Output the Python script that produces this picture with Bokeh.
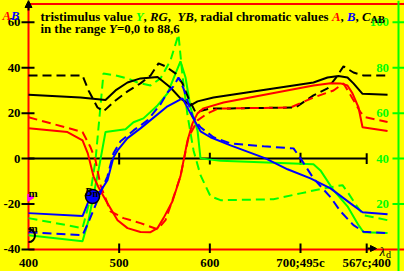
import math
from bokeh.plotting import figure
from bokeh.models import Range1d, Label, Arrow, NormalHead
from bokeh.core.properties import value
from bokeh.embed import file_html
from bokeh.resources import INLINE

# ---------------- data ----------------
x_ticks = [400, 500, 600, 700, 773]
x_labels = ["400", "500", "600", "700;495c", "567c;400"]
y_ticks = [-40, -20, 0, 20, 40, 60]
y_labels = ["-40", "-20", "0", "20", "40", "60"]
right_ticks = [20, 40, 60, 80, 100]
right_labels = ["20", "40", "60", "80", "100"]

# C_AB (black)
x_cab = [400, 457.4, 484.9, 496.0, 509.2, 523.5, 542.3, 556.6, 567.6, 578.7, 586.4, 604.0,
         714.3, 729.8, 741.9, 751.8, 758.4, 768.4, 796.0]
cab_solid = [28.1, 26.9, 25.8, 30.0, 33.5, 35.3, 35.9, 31.3, 26.5, 23.4, 25.2, 26.9,
             33.5, 35.7, 36.4, 35.7, 33.1, 28.5, 28.1]
x_cab_d = [400, 459.6, 466.2, 476.1, 482.7, 496.0, 509.2, 523.5, 534.6, 543.4, 551.1, 562.1,
           569.8, 576.5, 584.2, 600.7, 622.8, 694.5, 714.3, 729.8, 738.6, 747.4, 758.4, 769.5, 796.0]
cab_dashed = [36.6, 36.6, 30.0, 22.5, 20.8, 25.6, 29.6, 33.1, 36.6, 41.9, 40.6, 37.5,
              33.1, 26.5, 20.4, 22.1, 22.1, 22.5, 27.8, 30.9, 35.3, 40.6, 37.9, 36.6, 36.6]

# A (red)
x_a = [400, 443.0, 459.6, 465.4, 471.7, 477.2, 487.1, 498.2, 509.2, 523.5, 534.6, 542.3, 548.9, 558.8,
       567.6, 575.4, 580.9, 586.4, 593.0, 615.1, 714.3, 733.1, 744.1, 751.8, 757.3, 764.0, 768.4, 796.0]
a_solid = [13.4, 11.7, 8.0, 2.3, -7.8, -12.6, -19.7, -27.1, -30.6, -32.3, -32.4, -30.6, -26.2, -18.8,
           -7.8, 8.0, 15.5, 19.9, 22.1, 24.7, 32.2, 33.2, 33.1, 32.2, 28.7, 22.5, 13.8, 12.1]
x_a_d = [400, 459.6, 468.4, 473.9, 479.4, 490.4, 504.8, 523.5, 542.3, 551.1, 558.8, 567.6, 576.5,
         586.4, 597.4, 609.6, 622.8, 689.0, 714.3, 736.4, 747.4, 757.3, 766.2, 771.7, 796.0]
a_dashed = [18.2, 11.7, 5.0, -0.7, -11.7, -23.2, -26.2, -28.4, -31.1, -27.1, -18.3, -7.8, 9.4,
            16.8, 19.9, 22.1, 22.1, 22.5, 26.9, 30.0, 33.1, 26.5, 20.4, 18.2, 16.1]

# B (blue)
x_b = [400, 459.6, 466.2, 472.8, 479.4, 487.1, 493.7, 498.2, 509.2, 523.5, 553.3, 569.8, 578.7,
       589.7, 600.7, 622.8, 661.4, 685.7, 711.0, 733.1, 755.1, 768.4, 796.0]
b_solid = [-24.0, -25.3, -18.8, -15.7, -14.4, -9.5, 0.6, 3.6, 9.0, 13.3, 23.0, 26.5, 19.9,
           12.0, 9.4, 5.8, 0.1, -4.7, -8.7, -13.1, -19.7, -23.6, -24.5]
x_b_d = [400, 459.6, 466.2, 473.9, 480.5, 487.1, 493.7, 501.5, 515.8, 531.2, 545.6, 553.3, 559.9,
         565.4, 570.9, 580.9, 589.7, 604.0, 622.8, 659.2, 692.3, 700.0, 714.3, 733.1, 744.1, 758.4,
         769.5, 796.0]
b_dashed = [-32.4, -33.7, -28.0, -20.5, -13.9, -7.8, 2.3, 7.6, 12.4, 16.8, 23.9, 29.1, 31.8,
            35.7, 30.9, 18.6, 13.8, 9.4, 6.7, 5.4, 4.5, 0.1, -8.7, -17.0, -23.2, -29.3,
            -32.2, -32.8]

# Y (green, right axis)
x_y = [400, 459.6, 466.2, 472.8, 477.2, 484.9, 507.0, 515.8, 526.8, 542.3, 553.3, 567.6, 573.2,
       578.7, 586.4, 589.7, 611.8, 714.3, 722.0, 736.4, 751.8, 764.0, 769.5, 796.0]
y_solid = [6.3, 3.6, 12.9, 26.1, 34.8, 51.7, 52.9, 56.0, 57.7, 63.4, 68.7, 82.8, 75.7,
           62.5, 52.4, 40.1, 39.0, 37.5, 34.8, 26.1, 19.0, 10.7, 7.6, 7.2]
x_y_d = [400, 459.6, 466.2, 473.9, 482.7, 496.0, 509.2, 520.2, 534.6, 545.6, 556.6, 565.4, 569.8,
         575.4, 582.0, 589.7, 600.7, 611.8, 670.2, 700.0, 725.4, 746.3, 752.9, 762.9, 769.5, 796.0]
y_dashed = [13.8, 9.4, 19.5, 39.3, 77.5, 76.6, 75.3, 73.5, 72.2, 75.3, 83.2, 94.6, 76.6,
            59.0, 43.6, 32.7, 23.4, 21.7, 22.1, 24.7, 26.9, 28.3, 24.7, 18.6, 15.1, 12.9]

# markers
dot_x, dot_y = [470.6], [-16.7]
tri_x, tri_y = [401.5], [-17.2]
ring_x, ring_y = [400.0], [-33.9]

# ---------------- layout ----------------
W, H = 404, 271
PX0, PY0 = 28.0, 158.1          # pixel of x=400, y=0
SX, SY = 0.9067, 2.2719         # px per unit
X0 = 400 - PX0 / SX
X1 = 400 + (W - PX0) / SX
Y1 = PY0 / SY
Y0 = -(H - PY0) / SY


def X(px):
    return 400 + (px - PX0) / SX


def Y(py):
    return (PY0 - py) / SY


RED, GREEN, BLUE, BLACK, YEL = "#ff0000", "#00ff00", "#0000ff", "#000000", "#ffff00"
FONT = "Liberation Serif"
FS = "12.8px"

p = figure(width=W, height=H, output_backend="svg", toolbar_location=None,
           x_range=Range1d(X0, X1), y_range=Range1d(Y0, Y1),
           x_axis_location=None, y_axis_location=None,
           min_border_left=0, min_border_right=0, min_border_top=0, min_border_bottom=0)
p.extra_y_ranges = {"right": Range1d(Y0 + 40, Y1 + 40)}
p.background_fill_color = YEL
p.border_fill_color = YEL
p.outline_line_color = None
p.grid.visible = False

xmin, ymin = x_ticks[0], y_ticks[0]

# left (red) axis, bottom (red) axis, top red line
p.segment(x0=[xmin], x1=[xmin], y0=[ymin], y1=[Y(3)], line_color=RED, line_width=2)
p.segment(x0=[xmin], x1=[X(404)], y0=[ymin], y1=[ymin], line_color=RED, line_width=2)
p.segment(x0=[xmin], x1=[X(404)], y0=[Y(3.5)], y1=[Y(3.5)], line_color=RED, line_width=2)

# left ticks + labels
p.segment(x0=X(21), x1=X(34), y0=y_ticks, y1=y_ticks, line_color=BLACK, line_width=2)
p.text(x=[X(20)] * len(y_ticks), y=y_ticks, text=y_labels, text_align="right",
       text_baseline="middle", text_color=BLACK, text_font=value(FONT),
       text_font_style="bold", text_font_size=FS)

# bottom ticks + labels
p.segment(x0=x_ticks[1:], x1=x_ticks[1:], y0=Y(243), y1=Y(252.5), line_color=BLACK, line_width=2)
p.text(x=x_ticks, y=[Y(262.5)] * len(x_ticks), text=x_labels, text_align="center",
       text_baseline="alphabetic", text_color=BLACK, text_font=value(FONT),
       text_font_style="bold", text_font_size=FS)

# right (green) axis
p.segment(x0=[X(398)], x1=[X(398)], y0=[Y(271)], y1=[Y(0)], line_color=GREEN, line_width=2)
p.segment(x0=X(392), x1=X(404), y0=right_ticks, y1=right_ticks, y_range_name="right",
          line_color=GREEN, line_width=2)
p.text(x=[X(388.5)] * len(right_ticks), y=right_ticks, text=right_labels, y_range_name="right",
       text_align="right", text_baseline="middle", text_color=GREEN,
       text_font=value(FONT), text_font_style="bold", text_font_size=FS)

# zero axis line with ticks
p.line(x=[x_ticks[0], x_ticks[-1]], y=[0, 0], line_color=BLACK, line_width=2)
p.segment(x0=x_ticks[1:4], x1=x_ticks[1:4], y0=-2.6, y1=2.6, line_color=BLACK, line_width=2)
p.segment(x0=[x_ticks[-1]], x1=[x_ticks[-1]], y0=-2.4, y1=2.4, line_color=BLACK, line_width=2)

DASH = "9 5"
# curves
p.line(x_y_d, y_dashed, y_range_name="right", line_color=GREEN, line_width=2, line_dash=DASH)
p.line(x_y, y_solid, y_range_name="right", line_color=GREEN, line_width=2)
p.line(x_cab_d, cab_dashed, line_color=BLACK, line_width=2, line_dash=DASH)
p.line(x_cab, cab_solid, line_color=BLACK, line_width=2)
p.line(x_a_d, a_dashed, line_color=RED, line_width=2, line_dash=DASH)
p.line(x_a, a_solid, line_color=RED, line_width=2)
p.line(x_b_d, b_dashed, line_color=BLUE, line_width=2, line_dash=DASH)
p.line(x_b, b_solid, line_color=BLUE, line_width=2)

# markers
p.scatter(dot_x, dot_y, size=14, fill_color=BLUE, line_color=BLACK, line_width=1.5)
p.scatter(tri_x, tri_y, size=7, marker="triangle", angle=-math.pi / 2, fill_color="#ff00ff",
          line_color="#ff00ff")
p.arc(ring_x, ring_y, radius=6.5, radius_units="screen", start_angle=-math.pi / 2,
      end_angle=math.pi / 2, line_color=BLACK, line_width=2)

# arrows
p.add_layout(Arrow(end=NormalHead(size=7, fill_color=BLACK, line_color=BLACK),
                   x_start=X(28), y_start=Y(10), x_end=X(28), y_end=Y(0),
                   line_color=BLACK, line_width=2))
p.add_layout(Arrow(end=NormalHead(size=6, fill_color=BLACK, line_color=BLACK),
                   x_start=X(367), y_start=Y(248), x_end=X(376), y_end=Y(248),
                   line_color=BLACK, line_width=2))

# ---------------- texts ----------------
TB = {" ": 250, ",": 250, ";": 333, "=": 570, "a": 500, "c": 444, "d": 556, "e": 444, "g": 500,
      "h": 556, "i": 278, "l": 278, "m": 833, "n": 556, "o": 500, "r": 444, "s": 389, "t": 333,
      "u": 556, "v": 500, "A": 722, "B": 667, "C": 722, "G": 778, "R": 722, "Y": 722}
TBI = {"A": 667, "B": 667, "C": 667, "G": 722, "R": 667, "Y": 611}


def runs(x_px, base_px, pieces):
    x = x_px
    for txt, color, style, size, dy in pieces:
        p.add_layout(Label(x=X(x), y=Y(base_px + dy), text=txt, text_color=color,
                           text_font=FONT, text_font_style=style, text_font_size=f"{size}px",
                           text_align="left", text_baseline="alphabetic"))
        table = TBI if "italic" in style else TB
        x += sum(table.get(ch, TB.get(ch, 500)) for ch in txt) / 1000.0 * size


S = 12.8
runs(40, 16.5, [("tristimulus value ", BLACK, "bold", S, 0), ("Y", GREEN, "bold italic", S, 0),
                (", ", BLACK, "bold", S, 0), ("RG", BLACK, "bold italic", S, 0),
                (" , ", BLACK, "bold", S, 0), ("YB", BLACK, "bold italic", S, 0),
                (", radial chromatic values ", BLACK, "bold", S, 0),
                ("A", RED, "bold italic", S, 0), (", ", BLACK, "bold", S, 0),
                ("B", BLUE, "bold italic", S, 0), (", ", BLACK, "bold", S, 0),
                ("C", BLACK, "bold italic", S, 0), ("AB", BLACK, "bold", 10.5, 2)])
runs(40, 28.5, [("in the range ", BLACK, "bold", S, 0), ("Y", BLACK, "bold italic", S, 0),
                ("=0,0 to 88,6", BLACK, "bold", S, 0)])
runs(2, 15.5, [("A", RED, "bold italic", S, 0), ("B", BLUE, "bold italic", S, 0)])
runs(84, 191, [("B", BLACK, "bold italic", 12, 0), ("n", BLACK, "bold", 10, 2)])
runs(28, 192, [("m", BLACK, "bold", 11, 0)])
runs(28, 227, [("m", BLACK, "bold", 11, 0)])
runs(379, 251, [("λ", BLACK, "italic", 13, 0), ("d", BLACK, "normal", 10, 3)])

html = file_html(p, INLINE)
html = html.replace("<head>", "<head>\n<style>html,body{margin:0;padding:0;background:#ffff00;overflow:hidden;}</style>", 1)
open("out.html", "w").write(html)
